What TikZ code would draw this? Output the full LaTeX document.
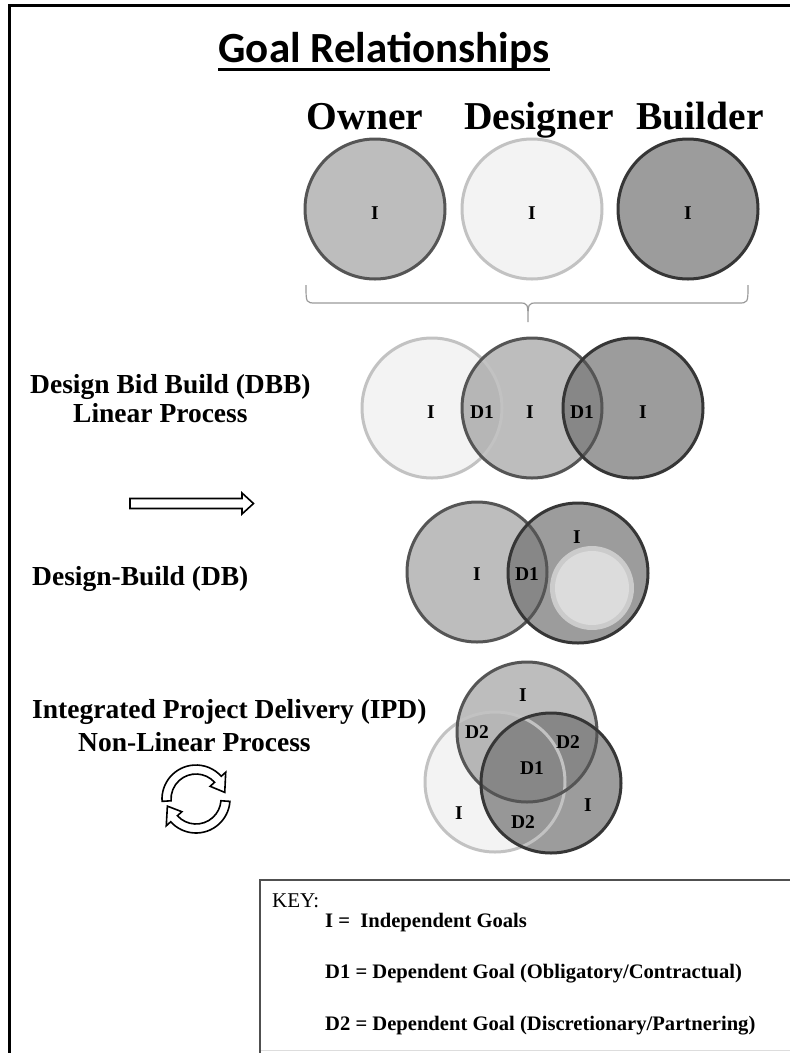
\documentclass[tikz,border=0pt]{standalone}
\usepackage{fontspec}
\setmainfont{Liberation Serif}
\newfontfamily\headfont{Carlito}
\usetikzlibrary{calc}

\definecolor{cOwner}{HTML}{BDBDBD}
\definecolor{cOwnerLine}{HTML}{555555}
\definecolor{cDesigner}{HTML}{F3F3F3}
\definecolor{cDesignerLine}{HTML}{C2C2C2}
\definecolor{cBuilder}{HTML}{9C9C9C}
\definecolor{cBuilderLine}{HTML}{363636}
\definecolor{cDark}{HTML}{878787}
\definecolor{cMidLight}{HTML}{B6B6B6}
\definecolor{cLowLight}{HTML}{979797}
\definecolor{cInner}{HTML}{DCDCDC}
\definecolor{cInnerRing}{HTML}{CBCBCB}
\definecolor{cBrace}{HTML}{9A9A9A}
\definecolor{cKeyLine}{HTML}{505050}
\definecolor{cKeyBottom}{HTML}{DDDDDD}

% outline of a goal circle, drawn after all fills
\newcommand\goalring[2]{\draw[#2, line width=3pt] (#1.center) circle[radius=70pt];}
% overlap of two goal circles
\newcommand\goaloverlap[3]{\begin{scope}\clip (#1.center) circle[radius=70pt];
  \fill[#3] (#2.center) circle[radius=70pt];\end{scope}}

\begin{document}
\begin{tikzpicture}[x=1pt,y=-1pt,
  goal/.style={circle, minimum size=140pt, inner sep=0pt, outer sep=0pt},
  lbl/.style={inner sep=0pt, font=\bfseries\fontsize{19.5}{19.5}\selectfont},
  side/.style={inner sep=0pt, anchor=base west, font=\bfseries\fontsize{27.5}{30}\selectfont},
  head/.style={inner sep=0pt, anchor=base, font=\bfseries\fontsize{39.5}{40}\selectfont},
  keytext/.style={inner sep=0pt, anchor=base west, font=\bfseries\fontsize{20.6}{22}\selectfont},
  hollow/.style={draw=black, fill=white, line width=1.6pt, line join=miter},
  bracket/.style={draw=cBrace, line width=1.2pt}
]
\useasboundingbox (0,0) rectangle (790,1053);
\fill[white] (0,0) rectangle (790,1053);

% page frame
\draw[line width=3pt] (9,1060) -- (9,5) -- (800,5);

% title
\node[anchor=base, inner sep=0pt, font=\headfont\bfseries\fontsize{43}{45}\selectfont]
  (title) at (384,62) {Goal Relationships};
\draw[line width=3pt] ([yshift=-7pt]title.base west) -- ([yshift=-7pt]title.base east);

% parties
\node[head] (hOwner) at (365,129) {Owner};
\node[head] (hDesigner) at (539,129) {Designer};
\node[head] (hBuilder) at (700,129) {Builder};

\node[goal, fill=cOwner] (tOwner) at (375,209) {};
\node[goal, fill=cDesigner] (tDesigner) at (532,209) {};
\node[goal, fill=cBuilder] (tBuilder) at (688,209) {};
\goalring{tOwner}{cOwnerLine}
\goalring{tDesigner}{cDesignerLine}
\goalring{tBuilder}{cBuilderLine}
\node[lbl] (tOwnerI) at (375,213) {I};
\node[lbl] (tDesignerI) at (532,213) {I};
\node[lbl] (tBuilderI) at (688,213) {I};

% brace gathering the three parties
\draw[bracket] (306,285) .. controls (306,303) .. (316,303) -- (519,303)
  .. controls (528,303) .. (528,322) .. controls (528,303) .. (537,303)
  -- (738,303) .. controls (748,303) .. (748,285);

% Design Bid Build
\node[side] (dbbA) at (30,393) {Design Bid Build (DBB)};
\node[side] (dbbB) at (73,422) {Linear Process};

\node[goal, fill=cDesigner] (dbbD) at (432,408) {};
\node[goal, fill=cOwner] (dbbO) at (532,408) {};
\node[goal, fill=cBuilder] (dbbBu) at (633,408) {};
\goaloverlap{dbbD}{dbbO}{cMidLight}
\goaloverlap{dbbO}{dbbBu}{cDark}
\goalring{dbbD}{cDesignerLine}
\goalring{dbbO}{cOwnerLine}
\goalring{dbbBu}{cBuilderLine}
\node[lbl] (dbbI1) at (431,412) {I};
\node[lbl] (dbbD1a) at (482,412) {D1};
\node[lbl] (dbbI2) at (530,412) {I};
\node[lbl] (dbbD1b) at (582,412) {D1};
\node[lbl] (dbbI3) at (643,412) {I};

% hollow arrow
\draw[hollow] (130,498.5) -- (242,498.5) -- (242,493) -- (253.5,503.5)
  -- (242,514) -- (242,508.5) -- (130,508.5) -- cycle;

% Design-Build
\node[side] (dbA) at (32,585) {Design-Build (DB)};

\node[goal, fill=cOwner] (dbO) at (477,572) {};
\node[goal, fill=cBuilder] (dbBu) at (578,573) {};
\goaloverlap{dbO}{dbBu}{cDark}
\fill[cInnerRing] (592,588) circle[radius=42pt];
\fill[cInner] (592,588) circle[radius=37pt];
\goalring{dbO}{cOwnerLine}
\goalring{dbBu}{cBuilderLine}
\node[lbl] (dbI1) at (477,574) {I};
\node[lbl] (dbD1) at (527,574) {D1};
\node[lbl] (dbI2) at (577,537) {I};

% Integrated Project Delivery
\node[side] (ipdA) at (32,718) {Integrated Project Delivery (IPD)};
\node[side] (ipdB) at (78,751) {Non-Linear Process};

% cycle arrows
\coordinate (cyc) at (196,799);
\draw[hollow] ($(cyc)+(184:34pt)$) arc[start angle=184, end angle=42, radius=34pt]
  -- ($(cyc)+(42:40pt)$) -- ($(cyc)+(13:29.5pt)$) -- ($(cyc)+(42:19pt)$)
  -- ($(cyc)+(42:25pt)$) arc[start angle=42, end angle=184, radius=25pt] -- cycle;
\draw[hollow] ($(cyc)+(-4:34pt)$) arc[start angle=-4, end angle=-138, radius=34pt]
  -- ($(cyc)+(-138:40pt)$) -- ($(cyc)+(-166:29.5pt)$) -- ($(cyc)+(-138:19pt)$)
  -- ($(cyc)+(-138:25pt)$) arc[start angle=-138, end angle=-4, radius=25pt] -- cycle;

\node[goal, fill=cDesigner] (ipdD) at (495,782) {};
\node[goal, fill=cOwner] (ipdO) at (527,732) {};
\node[goal, fill=cBuilder] (ipdBu) at (551,783) {};
\goaloverlap{ipdD}{ipdO}{cMidLight}
\goaloverlap{ipdD}{ipdBu}{cLowLight}
\goaloverlap{ipdO}{ipdBu}{cDark}
\goalring{ipdD}{cDesignerLine}
\goalring{ipdO}{cOwnerLine}
\goalring{ipdBu}{cBuilderLine}
\node[lbl] (ipdI1) at (523,695) {I};
\node[lbl] (ipdD2a) at (477,732) {D2};
\node[lbl] (ipdD2b) at (568,742) {D2};
\node[lbl] (ipdD1) at (532,768) {D1};
\node[lbl] (ipdI2) at (459,813) {I};
\node[lbl] (ipdD2c) at (523,822) {D2};
\node[lbl] (ipdI3) at (588,805) {I};

% key
\draw[cKeyBottom, line width=1.2pt] (260,1050.5) -- (800,1050.5);
\draw[cKeyLine, line width=2.5pt] (800,880) -- (260,880) -- (260,1060);
\node[inner sep=0pt, anchor=base west, font=\fontsize{21}{22}\selectfont] (keyT) at (272,907) {KEY:};
\node[keytext] (keyI) at (325,927) {I = \ Independent Goals};
\node[keytext] (keyD1) at (325,978) {D1 = Dependent Goal (Obligatory/Contractual)};
\node[keytext] (keyD2) at (325,1030) {D2 = Dependent Goal (Discretionary/Partnering)};
\end{tikzpicture}
\end{document}
